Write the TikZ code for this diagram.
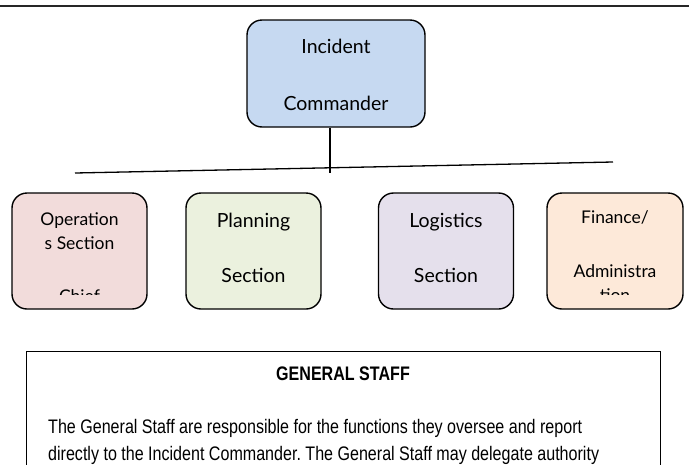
\documentclass[tikz,border=0pt]{standalone}
\usepackage{fontspec}
\setmainfont{Liberation Sans}
\newfontfamily\narrow[FakeStretch=0.82]{Liberation Sans}
\newfontfamily\gill{Lato}
\frenchspacing
\definecolor{icblue}{HTML}{C6D9F1}
\definecolor{oppink}{HTML}{F2DCDB}
\definecolor{plgreen}{HTML}{EBF1DE}
\definecolor{lglav}{HTML}{E5E0EC}
\definecolor{fnpeach}{HTML}{FDE9D9}
\begin{document}
\begin{tikzpicture}[x=1pt,y=-1pt,
  orgbox/.style={draw=black,line width=1.4pt,rounded corners=15pt,inner sep=0pt},
  lbl/.style={anchor=base,inner sep=0pt,font=\gill\fontsize{19.5}{19.5}\selectfont},
  lblsm/.style={anchor=base,inner sep=0pt,font=\gill\fontsize{17.5}{17.5}\selectfont},
  para/.style={anchor=base west,inner sep=0pt,font=\narrow\fontsize{19.6}{19.6}\selectfont},
  conn/.style={draw=black,line width=1.3pt}]
\useasboundingbox (0,0) rectangle (689,464);
% top rule
\coordinate (tl) at (0,6);
\coordinate (tr) at (689,6);
\draw[line width=2pt,black!85] (tl) -- (tr);
% incident commander
\node[orgbox,fill=icblue,minimum width=178pt,minimum height=107pt] (ic) at (336,73.5) {};
\node[lbl] (ic1) at (336,53) {Incident};
\node[lbl] (ic2) at (336,110) {Commander};
% branch line
\coordinate (bl) at (75,173);
\coordinate (br) at (613,162);
\coordinate (vb) at (330,173);
\draw[conn] (bl) -- (br);
\draw[conn] (ic.south -| vb) -- (vb);
% section boxes
\node[orgbox,fill=oppink,minimum width=135pt,minimum height=116pt] (ops) at (79.5,251) {};
\node[orgbox,fill=plgreen,minimum width=135pt,minimum height=116pt] (plan) at (253.5,251) {};
\node[orgbox,fill=lglav,minimum width=135pt,minimum height=116pt] (log) at (446,251) {};
\node[orgbox,fill=fnpeach,minimum width=136pt,minimum height=116pt] (fin) at (615,251) {};
% ops text
\node[lblsm] (ops1) at (79.5,225) {Operation};
\node[lblsm] (ops2) at (79.5,249) {s Section};
\begin{scope}
\clip (0,180) rectangle (689,294.5);
\node[lblsm] (ops3) at (79.5,302) {Chief};
\node[lblsm] (fin3) at (615,301) {tion};
\end{scope}
\node[lbl] (plan1) at (253.5,227) {Planning};
\node[lbl] (plan2) at (253.5,282) {Section};
\node[lbl] (log1) at (446,227) {Logistics};
\node[lbl] (log2) at (446,282) {Section};
\node[lblsm] (fin1) at (615,223) {Finance/};
\node[lblsm] (fin2) at (615,277) {Administra};
% general staff box
\node[draw=black,line width=1.4pt,minimum width=634pt,minimum height=160pt,anchor=north west,inner sep=0pt] (gs) at (26,351) {};
\node[anchor=base,inner sep=0pt,font=\narrow\bfseries\fontsize{19.6}{19.6}\selectfont] (gst) at (343,380) {GENERAL STAFF};
\node[para] (gsp1) at (48,433) {The General Staff are responsible for the functions they oversee and report};
\node[para] (gsp2) at (48,460) {directly to the Incident Commander. The General Staff may delegate authority};
\end{tikzpicture}
\end{document}
